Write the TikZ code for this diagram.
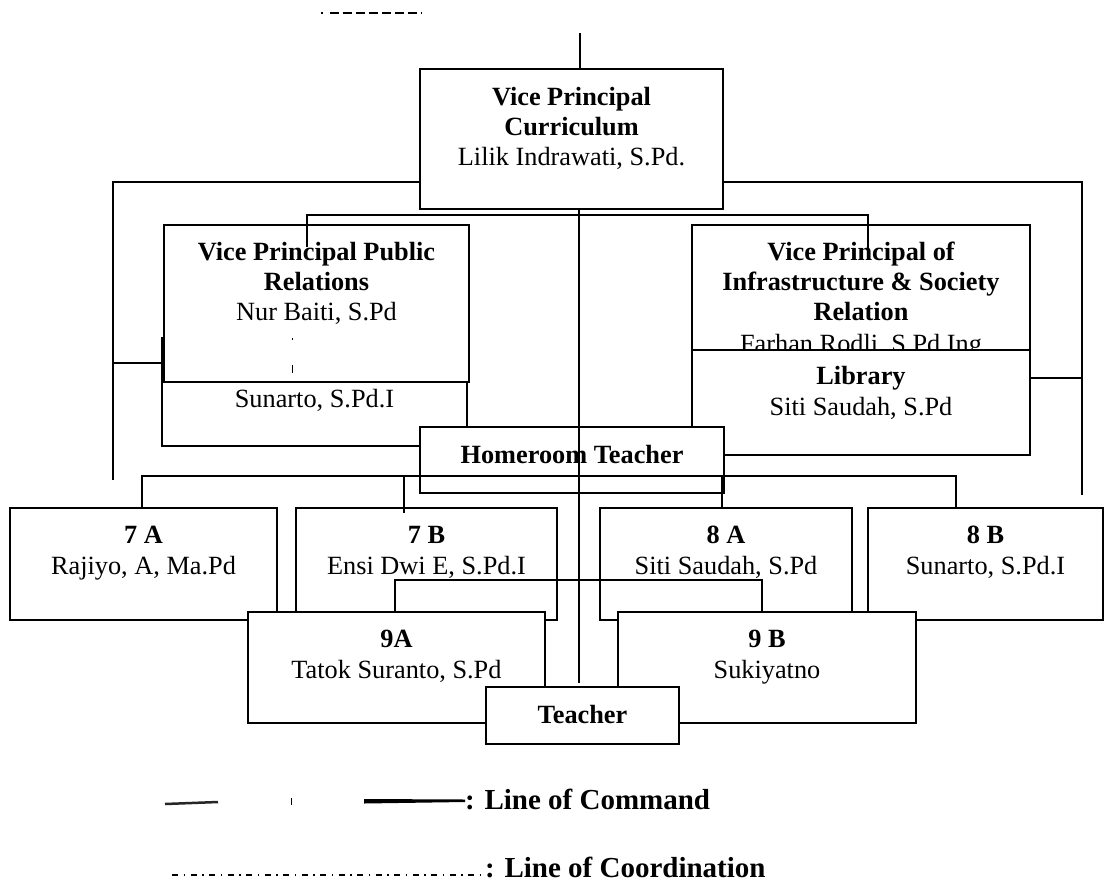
\documentclass[tikz,border=0pt]{standalone}
\usepackage{fontspec}
\setmainfont{Liberation Serif}
\usetikzlibrary{fit,calc}
\begin{document}
\begin{tikzpicture}[x=1pt,y=-1pt,
  box/.style={draw, fill=white, line width=1.15pt, inner sep=0pt},
  title/.style={font=\bfseries\fontsize{26.3}{30}\selectfont, anchor=base, inner sep=0pt},
  person/.style={font=\fontsize{26.3}{30}\selectfont, anchor=base, inner sep=0pt},
  legendtxt/.style={font=\bfseries\fontsize{29}{33}\selectfont, anchor=base west, inner sep=0pt},
  conn/.style={line width=1.15pt}]
\fill[white] (0,0) rectangle (1108,889);
\useasboundingbox (0,0) rectangle (1108,889);

% --- Curriculum
\node[box, fit={(420,69) (723,209)}] (cur) {};
\node[title] (cur-a) at (571.5,105) {Vice Principal};
\node[title] (cur-b) at (571.5,135) {Curriculum};
\node[person] (cur-c) at (571.5,165) {Lilik Indrawati, S.Pd.};

% --- Sunarto (behind public relations)
\node[box, fit={(162,338) (467,446)}] (sun) {};
\node[person] (sun-a) at (314.5,407) {Sunarto, S.Pd.I};

% --- Public relations
\node[box, fit={(164,225) (469,382)}] (pr) {};
\node[title] (pr-a) at (316.5,260) {Vice Principal Public};
\node[title] (pr-b) at (316.5,290) {Relations};
\node[person] (pr-c) at (316.5,320) {Nur Baiti, S.Pd};

% --- Infrastructure
\node[box, fit={(692,225) (1030,400)}] (inf) {};
\node[title] (inf-a) at (861,260) {Vice Principal of};
\node[title] (inf-b) at (861,290) {Infrastructure \& Society};
\node[title] (inf-c) at (861,320) {Relation};
\node[person] (inf-d) at (861,352) {Farhan Rodli, S.Pd Ing};

% --- Library
\node[box, fit={(692,350) (1030,455)}] (lib) {};
\node[title] (lib-a) at (861,384) {Library};
\node[person] (lib-b) at (861,415) {Siti Saudah, S.Pd};

% --- Homeroom
\node[box, fit={(420,427) (724,493)}] (hr) {};
\node[title] (hr-a) at (572,463) {Homeroom Teacher};

% --- classes
\node[box, fit={(10,508) (277,620)}] (c7a) {};
\node[title] (c7a-a) at (143.5,543) {7 A};
\node[person] (c7a-b) at (143.5,574) {Rajiyo, A, Ma.Pd};

\node[box, fit={(296,508) (557,620)}] (c7b) {};
\node[title] (c7b-a) at (426.5,543) {7 B};
\node[person] (c7b-b) at (426.5,574) {Ensi Dwi E, S.Pd.I};

\node[box, fit={(600,508) (852,620)}] (c8a) {};
\node[title] (c8a-a) at (726,543) {8 A};
\node[person] (c8a-b) at (726,574) {Siti Saudah, S.Pd};

\node[box, fit={(868,508) (1103,620)}] (c8b) {};
\node[title] (c8b-a) at (985.5,543) {8 B};
\node[person] (c8b-b) at (985.5,574) {Sunarto, S.Pd.I};

\node[box, fit={(248,612) (545,723)}] (c9a) {};
\node[title] (c9a-a) at (396.5,647) {9A};
\node[person] (c9a-b) at (396.5,678) {Tatok Suranto, S.Pd};

\node[box, fit={(618,612) (916,723)}] (c9b) {};
\node[title] (c9b-a) at (767,647) {9 B};
\node[person] (c9b-b) at (767,678) {Sukiyatno};

% --- Teacher
\node[box, fit={(486,687) (679,744)}] (tch) {};
\node[title] (tch-a) at (582.5,723) {Teacher};

% --- coordinates
\coordinate (topend) at (580,33);
\coordinate (dsA) at (321,13);
\coordinate (dsB) at (421,13);
\coordinate (ybr) at (0,182);
\coordinate (lbe) at (113,480);
\coordinate (rbe) at (1082,495);
\coordinate (ysun) at (0,363);
\coordinate (ylib) at (0,378);
\coordinate (prstub) at (307,247);
\coordinate (infstub) at (868,248);
\coordinate (m215) at (580,215);
\coordinate (cend) at (579,683);
\coordinate (h476) at (580,476);
\coordinate (s7a) at (142,0);
\coordinate (s7b) at (404,513);
\coordinate (s8a) at (722,0);
\coordinate (s8b) at (956,0);
\coordinate (m580) at (580,580);
\coordinate (s9a) at (395,0);
\coordinate (s9b) at (762,0);
\coordinate (cd1) at (292,338);
\coordinate (cd2) at (292,382);

% --- connectors
\draw[conn, dash pattern=on 1.5pt off 7pt on 9pt off 4pt on 9pt off 4pt on 9pt off 4pt on 9pt off 4pt on 9pt off 4pt on 9pt off 4pt on 9pt off 4pt on 9pt off 4pt] (dsA) -- (dsB);
\draw[conn] (topend) -- (cur.north -| topend);
\draw[conn] (cur.west |- ybr) -| (lbe);
\draw[conn] (cur.east |- ybr) -| (rbe);
\draw[conn] (lbe |- ysun) -- (sun.west |- ysun);
\draw[conn] (lib.east |- ylib) -- (rbe |- ylib);
\draw[conn] (prstub) |- (m215) -| (infstub);
\draw[conn] (cur.south -| cend) -- (cend);
\draw[conn] (c7a.north -| s7a) |- (h476) -| (c8b.north -| s8b);
\draw[conn] (s7b) -- (s7b |- h476);
\draw[conn] (c8a.north -| s8a) -- (s8a |- h476);
\draw[conn] (c9a.north -| s9a) |- (m580) -| (c9b.north -| s9b);
\draw[line width=0.9pt, dash pattern=on 2pt off 25pt on 8pt off 30pt] (cd1) -- (cd2);

% --- legend
\node[legendtxt] (cmdtxt) at (465,809) {: Line of Command};
\node[legendtxt] (cootxt) at (485,877) {: Line of Coordination};
\coordinate (cmA) at (364,801);
\coordinate (cmTop) at (0,799.5);
\coordinate (cmBot) at (0,802);
\coordinate (coA) at (172,875);
\coordinate (smA) at (165,804);
\coordinate (smB) at (218,802);
\coordinate (tkA) at (291,798);
\coordinate (tkB) at (291,805);
\draw[line width=2.5pt, black!85] (smA) -- (smB);
\draw[line width=1pt] (tkA) -- (tkB);
\fill ($(cmA)+(0,-2)$) -- (cmdtxt.west |- cmTop) -- (cmdtxt.west |- cmBot) -- ($(cmA)+(0,2.5)$) -- cycle;
\draw[line width=1.2pt, dash pattern=on 6pt off 5.5pt on 1.5pt off 5.5pt] (coA) -- (cootxt.west |- coA);
\end{tikzpicture}
\end{document}
